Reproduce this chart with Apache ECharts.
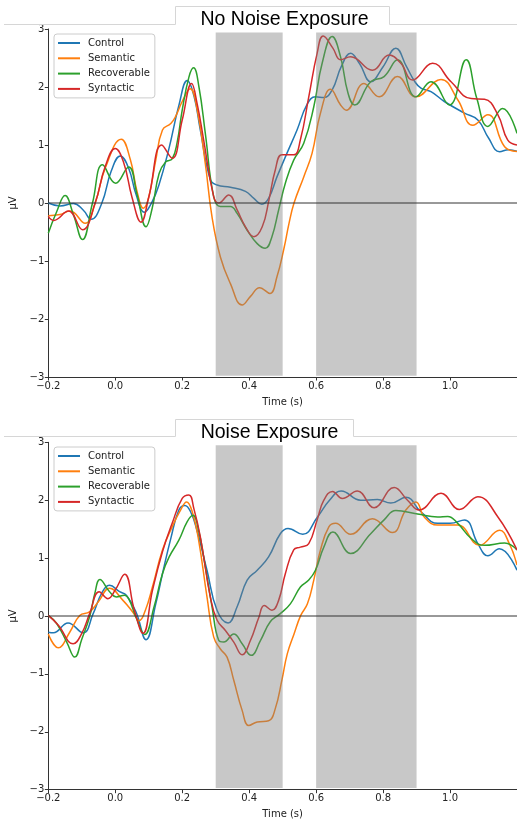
<!DOCTYPE html>
<html>
<head>
<meta charset="utf-8">
<script src="https://cdn.jsdelivr.net/npm/echarts@6/dist/echarts.min.js"></script>
<style>
  html, body { margin: 0; padding: 0; background: #fff; }
  #chart { width: 517px; height: 822px; }
</style>
</head>
<body>
<div id="chart"></div>
<script>
// ERP grand averages, [time (s), amplitude (µV)]
const conditionNames = ['Control', 'Semantic', 'Recoverable', 'Syntactic'];
const conditionColors = ['#1f77b4', '#ff7f0e', '#2ca02c', '#d62728'];
const panelTitles = ['No Noise Exposure', 'Noise Exposure'];

// Analysis windows (s)
const windows = [[0.3, 0.5], [0.6, 0.9]];

const quietControl = [[-0.2,0.0],[-0.165,-0.05],[-0.125,-0.01],[-0.096,-0.12],[-0.072,-0.28],[-0.04,0.0],[-0.012,0.55],[0.015,0.81],[0.04,0.6],[0.062,0.15],[0.087,-0.16],[0.11,0.02],[0.13,0.3],[0.16,0.93],[0.19,1.68],[0.215,2.11],[0.235,1.85],[0.254,1.26],[0.284,0.40],[0.304,0.31],[0.344,0.27],[0.389,0.20],[0.414,0.08],[0.438,-0.02],[0.458,0.08],[0.483,0.45],[0.513,0.86],[0.543,1.26],[0.573,1.70],[0.598,1.83],[0.623,1.82],[0.648,1.95],[0.675,2.35],[0.703,2.58],[0.73,2.4],[0.763,2.09],[0.80,2.35],[0.838,2.67],[0.87,2.35],[0.895,2.09],[0.913,1.98],[0.943,1.92],[0.983,1.75],[1.043,1.55],[1.083,1.43],[1.115,1.12],[1.148,0.885],[1.175,0.92],[1.2,0.89]];
const quietSemantic = [[-0.2,-0.22],[-0.165,-0.2],[-0.135,-0.14],[-0.09,-0.35],[-0.06,0.0],[-0.03,0.6],[0.018,1.10],[0.045,0.75],[0.065,0.2],[0.084,-0.09],[0.1,0.1],[0.121,0.74],[0.141,1.26],[0.166,1.37],[0.18,1.49],[0.2,1.75],[0.224,1.97],[0.245,1.6],[0.269,0.68],[0.289,-0.24],[0.314,-0.93],[0.344,-1.39],[0.379,-1.76],[0.404,-1.61],[0.431,-1.46],[0.462,-1.56],[0.483,-1.27],[0.504,-0.78],[0.519,-0.35],[0.534,0.0],[0.563,0.45],[0.588,0.86],[0.613,1.55],[0.643,1.96],[0.673,1.69],[0.69,1.60],[0.743,2.06],[0.788,1.83],[0.843,2.18],[0.898,1.83],[0.973,2.13],[1.023,1.78],[1.068,1.34],[1.113,1.52],[1.163,0.97],[1.2,0.89]];
const quietRecoverable = [[-0.2,-0.52],[-0.175,-0.15],[-0.15,0.13],[-0.125,-0.2],[-0.098,-0.63],[-0.068,0.0],[-0.038,0.66],[0.001,0.34],[0.04,0.62],[0.065,0.15],[0.092,-0.41],[0.11,-0.1],[0.131,0.51],[0.151,0.71],[0.17,0.76],[0.185,1.05],[0.2,1.6],[0.22,2.17],[0.234,2.33],[0.25,2.0],[0.269,1.20],[0.294,0.11],[0.314,-0.06],[0.344,-0.06],[0.364,-0.18],[0.394,-0.47],[0.424,-0.70],[0.448,-0.78],[0.468,-0.58],[0.488,-0.12],[0.508,0.34],[0.533,0.74],[0.563,1.03],[0.593,1.66],[0.618,2.41],[0.648,2.87],[0.673,2.52],[0.695,1.9],[0.715,1.69],[0.763,2.09],[0.803,2.18],[0.843,2.47],[0.898,1.83],[0.943,2.09],[0.998,1.69],[1.048,2.47],[1.08,1.8],[1.113,1.32],[1.157,1.63],[1.2,1.20]];
const quietSyntactic = [[-0.2,-0.23],[-0.184,-0.30],[-0.14,-0.14],[-0.098,-0.46],[-0.06,0.0],[-0.03,0.63],[0.0,0.94],[0.025,0.7],[0.05,0.1],[0.077,-0.33],[0.1,0.1],[0.139,1.0],[0.17,0.77],[0.2,1.43],[0.228,2.06],[0.245,1.7],[0.264,1.09],[0.294,0.11],[0.309,0.0],[0.339,0.14],[0.364,-0.12],[0.389,-0.41],[0.414,-0.58],[0.439,-0.41],[0.459,0.05],[0.478,0.57],[0.498,0.83],[0.533,0.83],[0.553,1.09],[0.578,1.83],[0.603,2.58],[0.621,2.88],[0.65,2.67],[0.673,2.47],[0.703,2.52],[0.768,2.29],[0.818,2.55],[0.853,2.41],[0.888,2.12],[0.948,2.41],[1.003,2.09],[1.063,1.80],[1.103,1.79],[1.143,1.52],[1.172,1.09],[1.2,1.0]];

const noiseControl = [[-0.2,-0.28],[-0.185,-0.29],[-0.141,-0.12],[-0.096,-0.29],[-0.066,0.04],[-0.04,0.4],[-0.017,0.53],[0.013,0.42],[0.033,0.36],[0.062,0.07],[0.092,-0.41],[0.121,0.21],[0.141,0.73],[0.166,1.34],[0.19,1.83],[0.208,1.91],[0.225,1.8],[0.244,1.48],[0.274,0.79],[0.304,0.10],[0.337,-0.12],[0.364,0.16],[0.394,0.62],[0.424,0.79],[0.458,1.02],[0.493,1.42],[0.516,1.51],[0.56,1.41],[0.604,1.71],[0.64,2.0],[0.675,2.16],[0.733,2.00],[0.783,2.01],[0.823,1.95],[0.868,2.05],[0.913,1.80],[0.963,1.60],[1.0,1.6],[1.043,1.66],[1.083,1.25],[1.113,1.04],[1.147,1.16],[1.2,0.79]];
const noiseSemantic = [[-0.2,-0.31],[-0.17,-0.55],[-0.136,-0.28],[-0.106,0.01],[-0.077,0.07],[-0.05,0.25],[-0.017,0.48],[0.023,0.27],[0.052,0.07],[0.072,-0.08],[0.09,0.1],[0.111,0.50],[0.141,1.14],[0.17,1.54],[0.195,1.83],[0.213,1.97],[0.23,1.8],[0.249,1.31],[0.274,0.33],[0.294,-0.36],[0.314,-0.57],[0.334,-0.71],[0.354,-1.11],[0.379,-1.63],[0.399,-1.89],[0.424,-1.83],[0.458,-1.81],[0.478,-1.6],[0.498,-1.1],[0.514,-0.65],[0.534,-0.31],[0.554,0.01],[0.574,0.21],[0.593,0.62],[0.613,1.14],[0.638,1.54],[0.658,1.60],[0.703,1.41],[0.768,1.68],[0.828,1.44],[0.868,1.83],[0.898,1.97],[0.923,1.71],[0.963,1.57],[1.023,1.57],[1.088,1.22],[1.148,1.48],[1.177,1.25],[1.2,0.88]];
const noiseRecoverable = [[-0.2,0.01],[-0.175,-0.13],[-0.145,-0.45],[-0.121,-0.71],[-0.1,-0.4],[-0.076,0.0],[-0.061,0.39],[-0.046,0.63],[-0.017,0.42],[0.003,0.33],[0.028,0.36],[0.04,0.30],[0.062,-0.02],[0.088,-0.32],[0.116,0.16],[0.141,0.73],[0.161,1.02],[0.19,1.31],[0.215,1.63],[0.232,1.74],[0.25,1.45],[0.264,1.02],[0.289,0.16],[0.309,-0.42],[0.324,-0.45],[0.354,-0.31],[0.379,-0.48],[0.406,-0.68],[0.434,-0.42],[0.463,-0.10],[0.493,0.04],[0.523,0.21],[0.553,0.50],[0.578,0.62],[0.598,0.79],[0.623,1.19],[0.65,1.45],[0.703,1.08],[0.763,1.42],[0.803,1.66],[0.838,1.82],[0.903,1.76],[0.963,1.71],[0.993,1.72],[1.023,1.60],[1.063,1.34],[1.103,1.22],[1.163,1.26],[1.2,1.14]];
const noiseSyntactic = [[-0.2,0.01],[-0.17,-0.16],[-0.126,-0.48],[-0.1,-0.3],[-0.076,0.05],[-0.048,0.42],[-0.022,0.30],[0.0,0.45],[0.028,0.72],[0.057,0.10],[0.083,-0.30],[0.111,0.44],[0.141,1.11],[0.17,1.60],[0.2,2.03],[0.22,2.09],[0.235,1.85],[0.254,1.37],[0.284,0.33],[0.304,-0.07],[0.329,-0.25],[0.354,-0.45],[0.379,-0.67],[0.404,-0.42],[0.429,-0.02],[0.445,0.18],[0.468,0.10],[0.488,0.27],[0.508,0.73],[0.533,1.14],[0.553,1.19],[0.578,1.25],[0.603,1.66],[0.623,2.00],[0.649,2.15],[0.678,2.03],[0.723,2.16],[0.773,1.87],[0.833,2.22],[0.873,2.00],[0.908,1.83],[0.973,2.12],[1.028,1.84],[1.083,2.06],[1.143,1.71],[1.2,1.14]];

const panelData = [
  [quietControl, quietSemantic, quietRecoverable, quietSyntactic],
  [noiseControl, noiseSemantic, noiseRecoverable, noiseSyntactic]
];

const X_MIN = -0.2, X_MAX = 1.2, Y_MIN = -3, Y_MAX = 3;
const shadeSpan = [[-2.98, 2.94], [-2.97, 2.95]];

const FONT = 'DejaVu Sans';
const TEXT = '#222';
const AXIS = '#333';
const fmtNum = (v, d) => (v < -1e-9 ? '\u2212' : '') + Math.abs(v).toFixed(d);

const grids = [
  { left: 48.3, right: 0, top: 29, height: 348 },
  { left: 48.3, right: 0, top: 442.3, height: 347.4 }
];
const legendTops = [34, 447];

const xAxes = grids.map((g, i) => ({
  type: 'value', gridIndex: i, min: X_MIN, max: X_MAX, interval: 0.2,
  name: 'Time (s)', nameLocation: 'middle', nameGap: 20,
  nameTextStyle: { fontFamily: FONT, fontSize: 10, color: TEXT },
  axisLine: { show: true, onZero: false, lineStyle: { color: AXIS, width: 1 } },
  axisTick: { show: true, length: 3.5, lineStyle: { color: AXIS } },
  axisLabel: { showMaxLabel: false, fontFamily: FONT, fontSize: 10, color: TEXT, margin: 4,
    formatter: v => fmtNum(v, 1) },
  splitLine: { show: false }
}));
const yAxes = grids.map((g, i) => ({
  type: 'value', gridIndex: i, min: Y_MIN, max: Y_MAX, interval: 1,
  name: 'μV', nameLocation: 'middle', nameGap: 21,
  nameTextStyle: { fontFamily: FONT, fontSize: 10, color: TEXT },
  axisLine: { show: true, onZero: false, lineStyle: { color: AXIS, width: 1 } },
  axisTick: { show: true, length: 3.5, lineStyle: { color: AXIS } },
  axisLabel: { fontFamily: FONT, fontSize: 10, color: TEXT, margin: 4,
    formatter: v => fmtNum(v, 0) },
  splitLine: { show: false }
}));

const series = [];
panelData.forEach((curves, p) => {
  curves.forEach((pts, k) => {
    series.push({
      name: conditionNames[k], type: 'line', xAxisIndex: p, yAxisIndex: p,
      data: pts, showSymbol: false, symbol: 'none', smooth: 0.45,
      color: conditionColors[k],
      lineStyle: { width: 1.5, color: conditionColors[k] },
      z: 2, silent: true, animation: false
    });
  });
  // translucent analysis windows, laid over the traces
  series.push({
    type: 'custom', xAxisIndex: p, yAxisIndex: p, z: 5, silent: true,
    data: windows.map(w => [w[0], w[1], shadeSpan[p][0], shadeSpan[p][1]]),
    encode: { x: [0, 1], y: [2, 3] },
    renderItem: (params, api) => {
      const a = api.coord([api.value(0), api.value(3)]);
      const b = api.coord([api.value(1), api.value(2)]);
      return {
        type: 'rect',
        shape: { x: a[0], y: a[1], width: b[0] - a[0], height: b[1] - a[1] },
        style: { fill: 'rgba(128,128,128,0.43)' }
      };
    },
    animation: false
  });
  // zero baseline
  series.push({
    type: 'line', xAxisIndex: p, yAxisIndex: p,
    data: [[X_MIN, 0], [X_MAX, 0]], symbol: 'none', silent: true,
    lineStyle: { color: AXIS, width: 1 }, z: 6, animation: false
  });
});

const legends = legendTops.map(top => ({
  data: conditionNames, orient: 'vertical', left: 54, top: top,
  padding: [3, 5, 3, 4], itemWidth: 22, itemHeight: 2, itemGap: 3.3,
  icon: 'rect', selectedMode: false, z: 10,
  backgroundColor: 'rgba(255,255,255,0.85)', borderColor: '#cccccc',
  borderWidth: 1, borderRadius: 3,
  textStyle: { fontFamily: FONT, fontSize: 10, color: TEXT, lineHeight: 12, padding: [0, 0, 0, 3] }
}));

// Title tabs across the top of each panel
const tab = (yLine, yTop, xL, xR) => ({
  type: 'polyline', silent: true, z: 20,
  shape: { points: [[4, yLine], [xL, yLine], [xL, yTop], [xR, yTop], [xR, yLine], [517, yLine]] },
  style: { stroke: '#d6d6d6', lineWidth: 1, fill: null }
});
const titleText = (txt, x, y) => ({
  type: 'text', silent: true, z: 21, x: x, y: y,
  style: { text: txt, fill: '#000', font: '19.5px "Liberation Sans", Arial, sans-serif',
    align: 'center', verticalAlign: 'middle' }
});

const chart = echarts.init(document.getElementById('chart'), null, { renderer: 'canvas' });
chart.setOption({
  animation: false,
  backgroundColor: '#ffffff',
  grid: grids,
  xAxis: xAxes,
  yAxis: yAxes,
  legend: legends,
  series: series,
  graphic: [
    tab(24.5, 6.5, 175.5, 389.5),
    titleText(panelTitles[0], 284.5, 20),
    tab(436.5, 419.5, 175.5, 353.5),
    titleText(panelTitles[1], 269.5, 432.5)
  ]
});
</script>
</body>
</html>
